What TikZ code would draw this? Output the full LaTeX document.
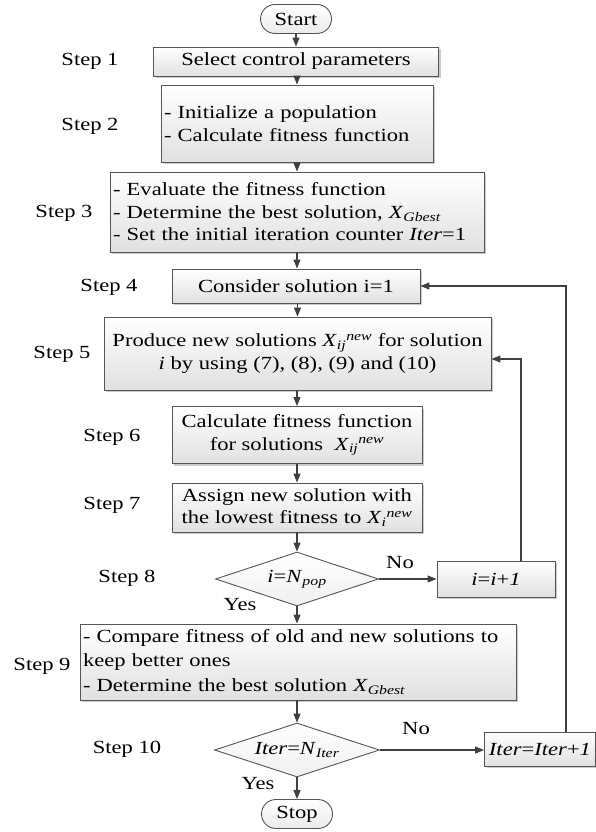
\documentclass[tikz,border=0pt]{standalone}
\usepackage{amsmath}
\usepackage{fontspec}
\setmainfont{Liberation Serif}[FakeStretch=1.22]
\usetikzlibrary{arrows.meta,shapes.geometric,shapes.misc,shadows}
\definecolor{lc}{HTML}{404040}
\definecolor{bc}{HTML}{555555}
\newcommand{\Xv}[2]{\textit{X}$_{\textit{#1}}{}^{\textit{#2}}$}
\newcommand{\Xs}[1]{\textit{X}$_{\textit{#1}}$}
\tikzset{
  conn/.style={draw=lc, line width=1.1pt},
  arr/.style={conn, -{Triangle[length=9pt,width=7pt]}},
  box/.style={rectangle, draw=bc, line width=0.9pt, top color=white, bottom color=black!12,
    drop shadow={shadow xshift=2pt, shadow yshift=-2pt, fill=black!40, opacity=0.5},
    inner sep=3pt},
  term/.style={rounded rectangle, draw=bc, line width=0.9pt, top color=white, bottom color=black!8,
    minimum width=75pt, minimum height=29pt, inner sep=2pt},
  dec/.style={diamond, draw=bc, line width=0.9pt, top color=white, bottom color=black!6,
    inner sep=0pt, aspect=3},
  steplbl/.style={inner sep=0pt},
}
\begin{document}
\begin{tikzpicture}[x=1pt,y=-1pt, font=\fontsize{18.5}{22.5}\selectfont]
\useasboundingbox (0,0) rectangle (596,832);

% nodes
\node[term] (start) at (296,19) {Start};
\node[box, minimum width=285pt, minimum height=29pt] (b1) at (296,61.5) {Select control parameters};
\node[box, text width=266pt, align=left, minimum height=77pt] (b2) at (297,123.5)
  {- Initialize a population\\- Calculate fitness function};
\node[box, text width=368pt, align=left, minimum height=80pt] (b3) at (297,212)
  {- Evaluate the fitness function\\- Determine the best solution, \Xs{Gbest}\\- Set the initial iteration counter \textit{Iter}=1};
\node[box, minimum width=248pt, minimum height=34pt] (b4) at (296,286) {Consider solution i=1};
\node[box, minimum width=387pt, minimum height=73pt, align=center] (b5) at (297.5,353.5)
  {Produce new solutions \Xv{ij}{new} for solution\\\textit{i} by using (7), (8), (9) and (10)};
\node[box, minimum width=250pt, minimum height=57pt, align=center] (b6) at (297,435)
  {Calculate fitness function\\for solutions\ \ \Xv{ij}{new}};
\node[box, minimum width=250pt, minimum height=49pt, align=center] (b7) at (297,507.5)
  {Assign new solution with\\the lowest fitness to \Xv{i}{new}};
\node[dec, minimum width=163pt, minimum height=54pt] (d8) at (297,579)
  {\textit{i}=\textit{N}$_{\textit{pop}}$};
\node[box, minimum width=118pt, minimum height=36pt] (b8) at (496,579) {\textit{i}=\textit{i}+\textit{1}};
\node[box, text width=430pt, align=left, minimum height=76pt, font=\fontsize{18.5}{24.5}\selectfont] (b9) at (298,662)
  {- Compare fitness of old and new solutions to\\keep better ones\\- Determine the best solution \Xs{Gbest}};
\node[dec, minimum width=165pt, minimum height=54pt] (d10) at (297,750)
  {\textit{Iter}=\textit{N}$_{\textit{Iter}}$};
\node[box, minimum width=111pt, minimum height=34pt, inner sep=1pt] (b10) at (540,749)
  {\textit{Iter}=\textit{Iter}+\textit{1}};
\node[term] (stop) at (297,814) {Stop};

% step labels
\node[steplbl] (s1) at (90,61) {Step 1};
\node[steplbl] (s2) at (90,126) {Step 2};
\node[steplbl] (s3) at (64,213) {Step 3};
\node[steplbl] (s4) at (109,287) {Step 4};
\node[steplbl] (s5) at (62,354) {Step 5};
\node[steplbl] (s6) at (112,437) {Step 6};
\node[steplbl] (s7) at (112,505) {Step 7};
\node[steplbl] (s8) at (127,578) {Step 8};
\node[steplbl] (s9) at (42,666) {Step 9};
\node[steplbl] (s10) at (127,749) {Step 10};

% yes/no labels
\node[steplbl] (no1) at (400,563) {No};
\node[steplbl] (yes1) at (240,605) {Yes};
\node[steplbl] (no2) at (416,729) {No};
\node[steplbl] (yes2) at (258,784) {Yes};

% connectors
\draw[arr] (start.south) -- (start.south |- b1.north);
\draw[arr] (b1.south -| b2.north) -- (b2.north);
\draw[arr] (b2.south) -- (b2.south |- b3.north);
\draw[arr] (b3.south) -- (b3.south |- b4.north);
\draw[arr] (b4.south -| b5.north) -- (b5.north);
\draw[arr] (b5.south -| b6.north) -- (b6.north);
\draw[arr] (b6.south) -- (b7.north);
\draw[arr] (b7.south) -- (d8.north);
\draw[arr] (d8.east) -- (b8.west);
\draw[arr] (d8.south) -- (d8.south |- b9.north);
\draw[arr] (b9.south -| d10.north) -- (d10.north);
\draw[arr] (d10.east) -- (d10.east -| b10.west);
\draw[arr] (d10.south) -- (stop.north);
\draw[arr] ([xshift=25pt]b8.north) |- ([yshift=-5.5pt]b5.east);
\draw[arr] ([xshift=26pt]b10.north) |- (b4.east);
\end{tikzpicture}
\end{document}
